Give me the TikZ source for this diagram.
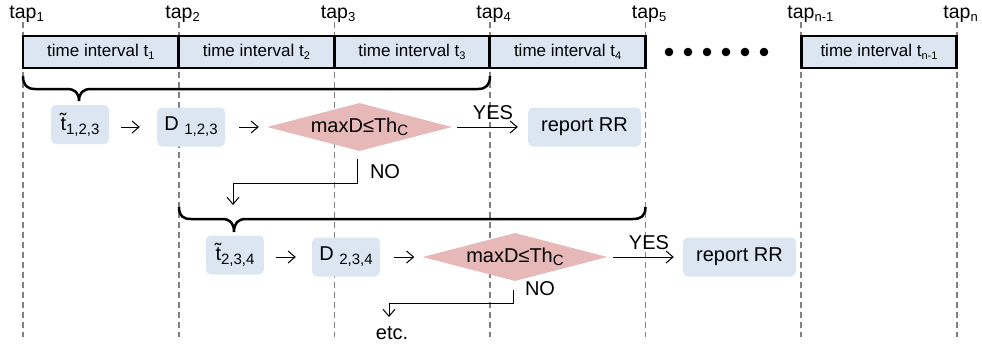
\documentclass[tikz,border=0pt]{standalone}
\usepackage{fontspec}
\setmainfont{Liberation Sans}
\usetikzlibrary{shapes.geometric,arrows.meta}
\definecolor{boxblue}{HTML}{DCE6F2}
\definecolor{decpink}{HTML}{E6B9B8}
\newcommand{\lowidx}[3]{\raisebox{-#1}{\fontsize{#2}{#2}\selectfont #3}}
\tikzset{
    tapline/.style={color=black!50, line width=1.4pt, dash pattern=on 6pt off 4pt},
    interval/.style={draw, line width=2.8pt, fill=boxblue, minimum width=155.6pt,
        minimum height=32pt, inner sep=0pt, font=\fontsize{17}{20}\selectfont},
    stepbox/.style={fill=boxblue, rounded corners=5pt, minimum height=39pt,
        inner sep=0pt, font=\fontsize{20}{24}\selectfont},
    decision/.style={diamond, fill=decpink, aspect=3.85, minimum width=185pt,
        minimum height=48pt, inner sep=0pt, font=\fontsize{20}{24}\selectfont},
    tag/.style={inner sep=0pt, font=\fontsize{20}{24}\selectfont},
    flow/.style={-{Straight Barb[length=7pt,width=12pt]}, line width=1pt},
    brace/.style={line width=2.5pt}
}
\begin{document}
\begin{tikzpicture}[x=1pt,y=-1pt]
        \useasboundingbox (0,0) rectangle (982,349);
        % taps
        \foreach \x/\n [count=\i] in {23/1,179/2,334.5/3,490/4,645.5/5,801/{n-1},957/n} {
            \draw[tapline] (\x,22) -- (\x,337);
            \node[tag, anchor=base, font=\fontsize{19.5}{22}\selectfont] (tap\i) at (\x,18)
                {tap\rlap{\lowidx{3pt}{13}{\n}}};
        }
        % time intervals
        \foreach \i in {1,2,3,4} {
            \node[interval] (int\i) at ({23+155.6*(\i-0.5)},52)
                {time interval t\lowidx{3pt}{11}{\i}};
        }
        \node[interval] (intn) at (879,52) {time interval t\lowidx{3pt}{11}{n-1}};
        \foreach \i in {0,...,5} {
            \fill (669+\i*19,52) circle (4.3pt);
        }
        % first window
        \draw[brace] (23,76) .. controls (23,85) and (27,89) .. (35,89) -- (67,89)
            .. controls (75,89) and (79,93) .. (79,101)
            .. controls (79,93) and (83,89) .. (91,89) -- (478,89)
            .. controls (486,89) and (490,85) .. (490,76);
        \node[stepbox, minimum width=58pt] (tt1) at (80,124.5) {\~{t}\lowidx{4pt}{15}{1,2,3}};
        \node[stepbox, minimum width=68pt] (d1) at (191,127) {D \lowidx{4pt}{15}{1,2,3}};
        \node[decision] (dia1) at (359.5,127) {maxD≤Th\lowidx{3pt}{15}{C}};
        \node[stepbox, minimum width=113pt] (rep1) at (584.5,127) {report RR};
        \draw[flow, shorten <=12pt, shorten >=17pt] (tt1.east |- d1.west) -- (d1.west);
        \draw[flow, shorten <=14pt, shorten >=8pt] (d1.east) -- (dia1.west);
        \draw[flow, shorten <=5pt, shorten >=10pt] (dia1.east) -- (rep1.west);
        \node[tag] (yes1) at (493,113) {YES};
        \node[tag] (no1) at (385,172) {NO};
        \coordinate (back1) at (233,205);
        \draw[flow] ([xshift=-2pt,yshift=-8pt]dia1.south) -- ++(0,24) -| (back1);
        % second window
        \draw[brace] (179,207) .. controls (179,216) and (183,219) .. (191,219) -- (222,219)
            .. controls (230,219) and (234,223) .. (234,232)
            .. controls (234,223) and (238,219) .. (246,219) -- (633,219)
            .. controls (641,219) and (645.5,216) .. (645.5,207);
        \node[stepbox, minimum width=58pt] (tt2) at (235,255) {\~{t}\lowidx{4pt}{15}{2,3,4}};
        \node[stepbox, minimum width=68pt] (d2) at (346,257) {D \lowidx{4pt}{15}{2,3,4}};
        \node[decision] (dia2) at (515,257) {maxD≤Th\lowidx{3pt}{15}{C}};
        \node[stepbox, minimum width=113pt] (rep2) at (739.5,257) {report RR};
        \draw[flow, shorten <=12pt, shorten >=16pt] (tt2.east |- d2.west) -- (d2.west);
        \draw[flow, shorten <=14pt, shorten >=8pt] (d2.east) -- (dia2.west);
        \draw[flow, shorten <=5pt, shorten >=9pt] (dia2.east) -- (rep2.west);
        \node[tag] (yes2) at (649,243) {YES};
        \node[tag] (no2) at (540,289) {NO};
        \coordinate (back2) at (389,317);
        \draw[flow] ([xshift=-2pt,yshift=-9pt]dia2.south) -- ++(0,13) -| (back2);
        \node[tag] (etc) at (392,333) {etc.};
    \end{tikzpicture}
\end{document}
